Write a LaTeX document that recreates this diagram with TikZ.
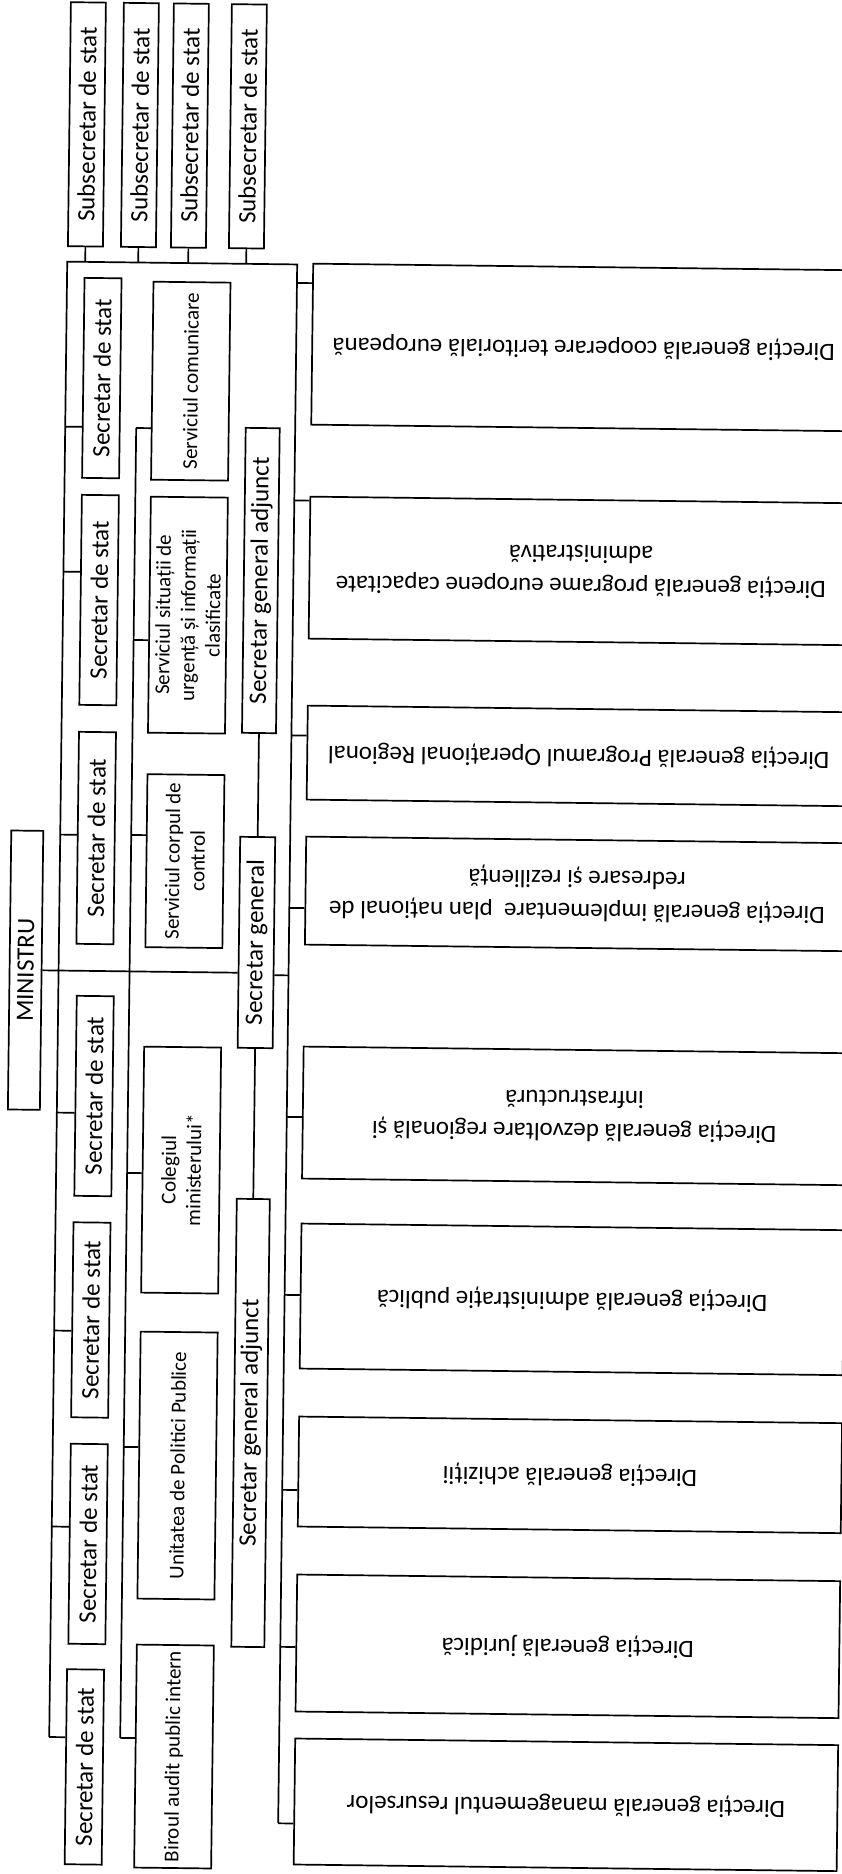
\documentclass[tikz,border=0pt]{standalone}
\usepackage{fontspec}
\setmainfont{Carlito}
\usepackage{tikz}

\newcommand{\bigfont}{\fontsize{25}{30}\selectfont}
\newcommand{\smallfont}{\fontsize{21}{25}\selectfont}
\newcommand{\dirfont}{\fontsize{25}{33}\selectfont}

\begin{document}
\begin{tikzpicture}[x=1pt, y=-1pt, line width=1.7pt]
    \tikzstyle{vbox}=[draw, rotate=90, inner sep=0pt, align=center, font=\bigfont]
    \tikzstyle{sub}=[vbox, minimum width=244pt, minimum height=35pt]
    \tikzstyle{secr}=[vbox, minimum width=200pt, minimum height=37pt]
    \tikzstyle{serv}=[vbox, minimum height=77pt, font=\smallfont]
    \tikzstyle{dir}=[draw, rotate=180, inner sep=0pt, minimum width=543pt, align=center, font=\dirfont]

    \useasboundingbox (0,0) rectangle (842,1874);
    \begin{scope}[rotate around={-0.7:(421,937)}, transform shape]

    \node[sub]    (sub1) at (77,128.5)   {Subsecretar de stat};
    \node[sub]    (sub2) at (130,128.5)  {Subsecretar de stat};
    \node[sub]    (sub3) at (180,128.5)  {Subsecretar de stat};
    \node[sub]    (sub4) at (238,128.5)  {Subsecretar de stat};

    \node[vbox, minimum width=279pt, minimum height=32pt] (min) at (26,975) {MINISTRU};

    \node[secr]                    (sec1) at (95,382)    {Secretar de stat};
    \node[secr, minimum width=210pt] (sec2) at (95,604)  {Secretar de stat};
    \node[secr, minimum width=212pt] (sec3) at (95,842)  {Secretar de stat};
    \node[secr]                    (sec4) at (96,1100)   {Secretar de stat};
    \node[secr, minimum width=195pt] (sec5) at (95.5,1324) {Secretar de stat};
    \node[secr]                    (sec6) at (95.5,1548) {Secretar de stat};
    \node[secr, minimum width=195pt] (sec7) at (94.5,1771) {Secretar de stat};

    \node[serv, minimum width=198pt] (com)   at (184,384)    {Serviciul comunicare};
    \node[serv, minimum width=236pt] (urg)   at (184,618)    {Serviciul situații de\\urgență și informații\\clasificate};
    \node[serv, minimum width=173pt] (ctrl)  at (184,864)    {Serviciul corpul de\\control};
    \node[serv, minimum width=246pt] (col)   at (184,1173)   {Colegiul\\ministerului*};
    \node[serv, minimum width=267pt] (upp)   at (184,1468.5) {Unitatea de Politici Publice};
    \node[serv, minimum width=223pt] (audit) at (184,1759.5) {Biroul audit public intern};

    \node[vbox, minimum width=305pt, minimum height=34pt] (sga1) at (256.5,582.5) {Secretar general adjunct};
    \node[vbox, minimum width=211pt, minimum height=35pt] (sg)   at (256.5,944.5) {Secretar general};
    \node[vbox, minimum width=448pt, minimum height=33pt] (sga2) at (256.5,1425)  {Secretar general adjunct};

    \node[dir, minimum height=161pt] (d1) at (576.5,345.5) {Direcția generală cooperare teritorială europeană};
    \node[dir, minimum height=142pt] (d2) at (576.5,569)   {Direcția generală programe europene capacitate\\administrativă};
    \node[dir, minimum height=94pt]  (d3) at (576.5,754)   {Direcția generală Programul Operațional Regional};
    \node[dir, minimum height=108pt] (d4) at (576.5,892)   {Direcția generală implementare~ plan național de\\redresare și reziliență};
    \node[dir, minimum height=132pt] (d5) at (576.5,1114)  {Direcția generală dezvoltare regională și\\infrastructură};
    \node[dir, minimum height=145pt] (d6) at (576.5,1297.5) {Direcția generală administrație publică};
    \node[dir, minimum height=110pt] (d7) at (576.5,1473)  {Direcția generală achiziții};
    \node[dir, minimum height=137pt] (d8) at (576.5,1644.5) {Direcția generală juridică};
    \node[dir, minimum height=126pt] (d9) at (576.5,1803)  {Direcția generală managementul resurselor};

    \coordinate (tl) at (59,266);
    \coordinate (tr) at (289,266);
    \coordinate (bl) at (59,1741.5);
    \coordinate (br) at (289,1825);
    \coordinate (st) at (130,431.5);
    \coordinate (sb) at (130,1741.5);

    \draw (bl) -- (tl) -- (tr) -- (br);
    \draw (st) -- (sb);

    \foreach \s/\x in {sub1/77, sub2/130, sub3/180, sub4/238}
        \draw (\s) -- (\x,266);
    \foreach \s/\y in {sec1/431, sec2/576, sec3/839, sec4/1117, sec5/1335, sec6/1531, sec7/1741.5}
        \draw (59,\y) -- (59,\y -| \s.north);
    \foreach \s/\y in {com/431.5, urg/643.5, ctrl/838.5, col/1176.5, upp/1450.5, audit/1741.5}
        \draw (130,\y) -- (130,\y -| \s.north);
    \foreach \d/\y in {d1/284.5, d2/502, d3/737, d4/909.5, d5/1118.5, d6/1296.5, d7/1491.5, d8/1648.5, d9/1825}
        \draw (289,\y) -- (289,\y -| \d.east);

    \draw (min.south) -- (min.south -| sg.north);
    \draw (289,977) -- (289,977 -| sg.south);
    \draw (sga1) -- (sg);
    \draw (sg) -- (sga2);

    \end{scope}
\end{tikzpicture}
\end{document}
